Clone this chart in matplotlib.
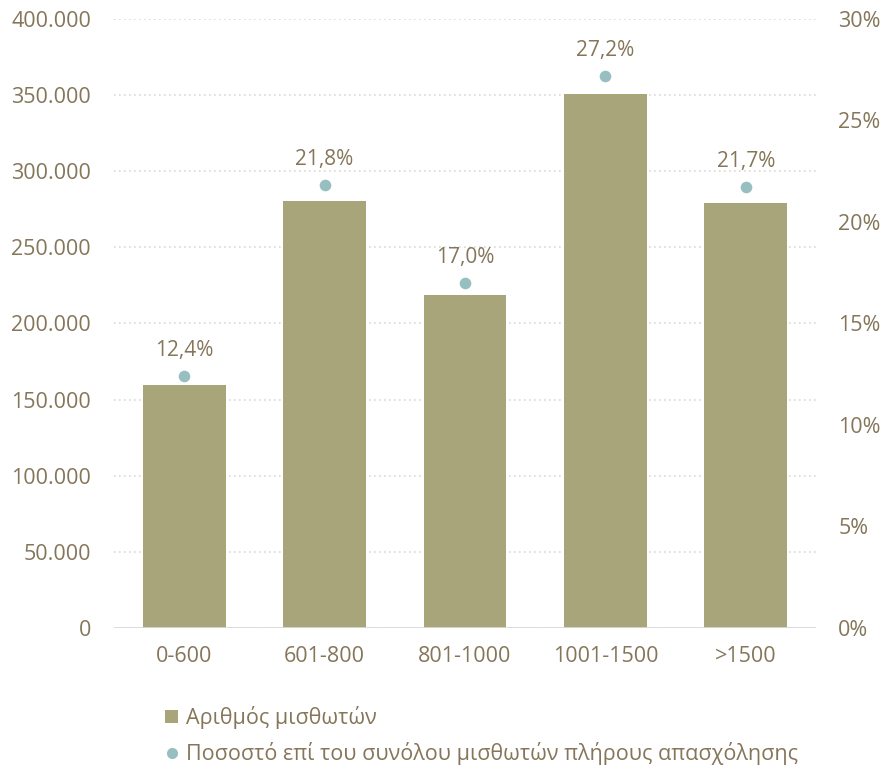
import matplotlib

matplotlib.use("Agg")
import matplotlib.pyplot as plt
from matplotlib.lines import Line2D
from matplotlib.patches import Patch

categories = ["0-600", "601-800", "801-1000", "1001-1500", ">1500"]
employees = [159500, 280500, 218800, 350700, 279200]
shares = [12.4, 21.8, 17.0, 27.2, 21.7]
left_ticks = [0, 50000, 100000, 150000, 200000, 250000, 300000, 350000, 400000]
right_ticks = [0, 5, 10, 15, 20, 25, 30]

TEXT = "#85765a"
BAR = "#a8a57b"
DOT = "#97bfc0"
GRID = "#d9d9d9"

plt.rcParams["font.family"] = ["Open Sans", "DejaVu Sans"]

fig = plt.figure(figsize=(8.84, 7.69), dpi=100)
ax = fig.add_axes([0.129, 0.1834, 0.794, 0.7919])
ax2 = ax.twinx()

x = list(range(len(categories)))
ax.bar(x, employees, width=0.59, color=BAR, zorder=3)
ax.set_xlim(-0.5, len(categories) - 0.5)
ax.set_ylim(0, 400000)
ax.set_yticks(left_ticks)
ax.set_yticklabels([f"{v:,}".replace(",", ".") for v in left_ticks])
ax.set_xticks(x)
ax.set_xticklabels(categories)
ax.yaxis.grid(True, linestyle=(0, (1, 2)), color=GRID, linewidth=1.2, zorder=0)
ax.set_axisbelow(True)

ax2.scatter(x, shares, s=70, color=DOT, zorder=5, linewidths=0)
ax2.set_ylim(0, 30)
ax2.set_yticks(right_ticks)
ax2.set_yticklabels([f"{v}%" for v in right_ticks])
for xi, v in zip(x, shares):
    ax2.annotate(f"{v:.1f}%".replace(".", ","), (xi, v), xytext=(0, 11),
                 textcoords="offset points", ha="center", va="bottom",
                 color=TEXT, fontsize=15)

for a in (ax, ax2):
    for s in a.spines.values():
        s.set_visible(False)
    a.tick_params(length=0, labelsize=15.5, labelcolor=TEXT)
ax.tick_params(axis="y", pad=16.5)
ax.tick_params(axis="x", pad=13)
ax2.tick_params(axis="y", pad=16)
ax.axhline(0, color=GRID, linewidth=2, zorder=4)

handles = [
    Patch(facecolor=BAR, edgecolor="none", label="Αριθμός μισθωτών"),
    Line2D([], [], marker="o", linestyle="none", markersize=8,
           markerfacecolor=DOT, markeredgewidth=0,
           label="Ποσοστό επί του συνόλου μισθωτών πλήρους απασχόλησης"),
]
leg = fig.legend(handles=handles, loc="lower left", bbox_to_anchor=(0.165, -0.02),
                 frameon=False, fontsize=15.5, labelcolor=TEXT, handlelength=0.6,
                 handleheight=0.6, handletextpad=0.35, labelspacing=0.6)

fig.savefig("out.png", dpi=100, facecolor="white")
